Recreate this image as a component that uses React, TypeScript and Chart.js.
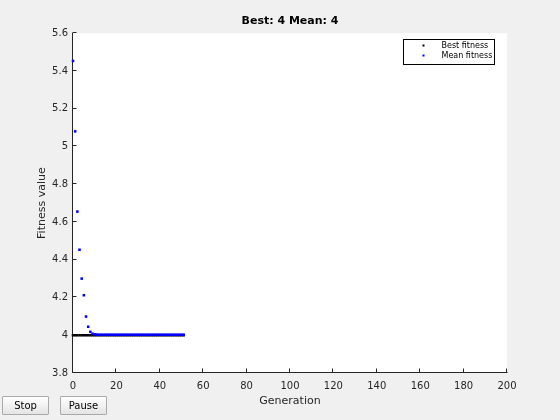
import React, { useEffect, useRef } from "react";
import { Chart, registerables } from "chart.js";

Chart.register(...registerables);

const titleText = "Best: 4 Mean: 4";
const xTitle = "Generation";
const yTitle = "Fitness value";
const seriesLabels = ["Best fitness", "Mean fitness"];
const seriesColors = ["#000000", "#0000ff"];

const generations = [
  0, 1, 2, 3, 4, 5, 6, 7, 8, 9, 10, 11, 12, 13, 14, 15, 16, 17, 18, 19, 20, 21, 22, 23, 24, 25,
  26, 27, 28, 29, 30, 31, 32, 33, 34, 35, 36, 37, 38, 39, 40, 41, 42, 43, 44, 45, 46, 47, 48, 49, 50, 51,
];

const bestFitness = [
  4, 4, 4, 4, 4, 4, 4, 4, 4, 4, 4, 4, 4, 4, 4, 4, 4, 4, 4, 4, 4, 4, 4, 4, 4, 4,
  4, 4, 4, 4, 4, 4, 4, 4, 4, 4, 4, 4, 4, 4, 4, 4, 4, 4, 4, 4, 4, 4, 4, 4, 4, 4,
];

const meanFitness = [
  5.453, 5.08, 4.655, 4.453, 4.3, 4.212, 4.099, 4.045, 4.018, 4.008, 4.005, 4.004, 4.003, 4.003,
  4.003, 4.003, 4.003, 4.003, 4.003, 4.003, 4.003, 4.003, 4.003, 4.003, 4.003, 4.003,
  4.003, 4.003, 4.003, 4.003, 4.003, 4.003, 4.003, 4.003, 4.003, 4.003, 4.003, 4.003, 4.003,
  4.003, 4.003, 4.003, 4.003, 4.003, 4.003, 4.003, 4.003, 4.003, 4.003, 4.003, 4.003, 4.003,
];

const xMin = 0;
const xMax = 200;
const xStep = 20;
const yMin = 3.8;
const yMax = 5.6;
const yStep = 0.2;

const FONT = "'DejaVu Sans', sans-serif";
const AXIS_COLOR = "#262626";

const matlabPlugin = {
  id: "matlabAxes",
  beforeDraw(chart: any) {
    const { ctx, chartArea } = chart;
    ctx.save();
    ctx.fillStyle = "#ffffff";
    ctx.fillRect(chartArea.left, chartArea.top, chartArea.right - chartArea.left, chartArea.bottom - chartArea.top);
    ctx.restore();
  },
  beforeDatasetsDraw(chart: any) {
    const { ctx, chartArea, scales } = chart;
    const ax = Math.round(chartArea.left) - 0.5;
    const ay = Math.round(chartArea.bottom) - 0.5;
    ctx.save();
    ctx.strokeStyle = AXIS_COLOR;
    ctx.lineWidth = 1;
    ctx.beginPath();
    ctx.moveTo(ax, Math.round(chartArea.top));
    ctx.lineTo(ax, ay);
    ctx.lineTo(Math.round(chartArea.right) + 0.5, ay);
    const tl = 4;
    scales.y.ticks.forEach((t: any) => {
      const py = Math.round(scales.y.getPixelForValue(t.value)) - 0.5;
      ctx.moveTo(ax, py);
      ctx.lineTo(ax + tl, py);
    });
    scales.x.ticks.forEach((t: any) => {
      const px = Math.round(scales.x.getPixelForValue(t.value)) - 0.5;
      ctx.moveTo(px, ay);
      ctx.lineTo(px, ay - tl);
    });
    ctx.stroke();
    ctx.restore();
  },
  afterDraw(chart: any) {
    const { ctx, chartArea } = chart;
    const bx = Math.round(chartArea.right) - 104 + 0.5;
    const by = Math.round(chartArea.top) + 6 + 0.5;
    const bw = 91;
    const bh = 25;
    ctx.save();
    ctx.fillStyle = "#ffffff";
    ctx.fillRect(bx, by, bw, bh);
    ctx.strokeStyle = "#000000";
    ctx.lineWidth = 1;
    ctx.strokeRect(bx, by, bw, bh);
    ctx.font = `8px ${FONT}`;
    ctx.textBaseline = "middle";
    ctx.textAlign = "left";
    chart.data.datasets.forEach((ds: any, i: number) => {
      const cy = by + 6 + i * 10;
      ctx.fillStyle = ds.pointBackgroundColor;
      ctx.fillRect(bx + 19, cy - 1, 2, 2);
      ctx.fillStyle = "#000000";
      ctx.fillText(ds.label, bx + 38, cy);
    });
    ctx.restore();
  },
};

export default function App() {
  const canvasRef = useRef<HTMLCanvasElement | null>(null);

  useEffect(() => {
    const canvas = canvasRef.current;
    if (!canvas) return;
    const best = generations.map((g, i) => ({ x: g, y: bestFitness[i] }));
    const mean = generations.map((g, i) => ({ x: g, y: meanFitness[i] }));
    const chart = new Chart(canvas, {
      type: "scatter",
      data: {
        datasets: [
          {
            label: seriesLabels[0],
            data: best,
            pointBackgroundColor: seriesColors[0],
            pointBorderColor: seriesColors[0],
            pointBorderWidth: 0,
            pointRadius: 1.8,
            pointStyle: "rect",
            showLine: false,
            clip: false as any,
            order: 1,
          },
          {
            label: seriesLabels[1],
            data: mean,
            pointBackgroundColor: seriesColors[1],
            pointBorderColor: seriesColors[1],
            pointBorderWidth: 0,
            pointRadius: 1.8,
            pointStyle: "rect",
            showLine: false,
            clip: false as any,
            order: 0,
          },
        ],
      },
      options: {
        responsive: false,
        animation: false,
        events: [],
        layout: { padding: { left: 0, right: 53, top: 0, bottom: 0 } },
        plugins: {
          legend: { display: false },
          tooltip: { enabled: false },
          title: {
            display: true,
            text: titleText,
            color: "#000000",
            fullSize: false,
            font: { family: FONT, size: 11, weight: "bold" },
            padding: { top: 15, bottom: 5 },
          },
        },
        scales: {
          x: {
            type: "linear",
            position: "bottom",
            min: xMin,
            max: xMax,
            grid: { display: false, drawTicks: false },
            border: { display: false },
            ticks: {
              stepSize: xStep,
              color: AXIS_COLOR,
              font: { family: FONT, size: 10 },
              padding: 7,
              maxRotation: 0,
              autoSkip: false,
            },
            title: {
              display: true,
              text: xTitle,
              color: AXIS_COLOR,
              font: { family: FONT, size: 11 },
              padding: { top: 0, bottom: 12 },
            },
            afterFit: (s: any) => {
              s.height = 47;
            },
          },
          y: {
            type: "linear",
            position: "left",
            min: yMin,
            max: yMax,
            grid: { display: false, drawTicks: false },
            border: { display: false },
            ticks: {
              stepSize: yStep,
              color: AXIS_COLOR,
              font: { family: FONT, size: 10 },
              padding: 5,
              autoSkip: false,
              callback: (v: any) => String(Math.round(Number(v) * 10) / 10),
            },
            title: {
              display: true,
              text: yTitle,
              color: AXIS_COLOR,
              font: { family: FONT, size: 11 },
              padding: { top: 36, bottom: 0 },
            },
            afterFit: (s: any) => {
              s.width = 73;
            },
          },
        },
      },
      plugins: [matlabPlugin],
    });
    return () => chart.destroy();
  }, []);

  const btn: React.CSSProperties = {
    position: "absolute",
    top: 396,
    width: 47,
    height: 19,
    padding: 0,
    margin: 0,
    fontFamily: FONT,
    fontSize: 10,
    color: "#000",
    border: "1px solid #a9a9a9",
    borderRadius: 1,
    background: "linear-gradient(#ffffff, #e4e4e4)",
    boxSizing: "border-box",
    lineHeight: "17px",
  };

  return (
    <div style={{ position: "fixed", left: 0, top: 0, width: 560, height: 420, background: "#f0f0f0", overflow: "hidden" }}>
      <canvas ref={canvasRef} width={560} height={420} style={{ display: "block", width: 560, height: 420 }} />
      <button style={{ ...btn, left: 2 }}>Stop</button>
      <button style={{ ...btn, left: 60 }}>Pause</button>
    </div>
  );
}
